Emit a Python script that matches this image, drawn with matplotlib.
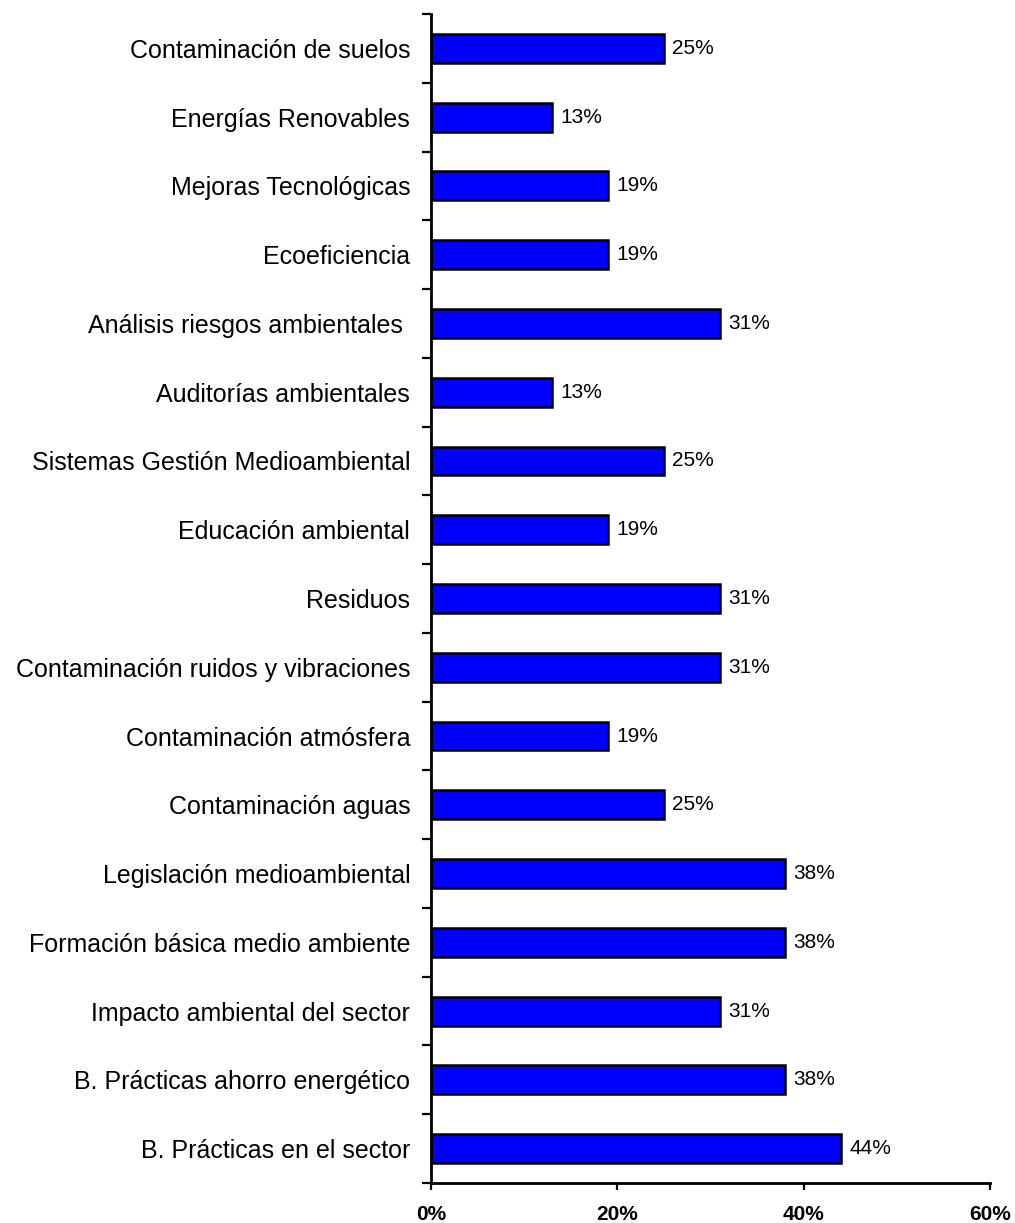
import numpy as np
import matplotlib.pyplot as plt
from matplotlib.ticker import FixedLocator

plt.rcParams['font.family'] = ['Liberation Sans', 'DejaVu Sans']

# topics, listed top to bottom
categories = [
    "Contaminación de suelos",
    "Energías Renovables",
    "Mejoras Tecnológicas",
    "Ecoeficiencia",
    "Análisis riesgos ambientales ",
    "Auditorías ambientales",
    "Sistemas Gestión Medioambiental",
    "Educación ambiental",
    "Residuos",
    "Contaminación ruidos y vibraciones",
    "Contaminación atmósfera",
    "Contaminación aguas",
    "Legislación medioambiental",
    "Formación básica medio ambiente",
    "Impacto ambiental del sector",
    "B. Prácticas ahorro energético",
    "B. Prácticas en el sector",
]
percent = [25, 13, 19, 19, 31, 13, 25, 19, 31, 31, 19, 25, 38, 38, 31, 38, 44]
xticks = [0, 20, 40, 60]

fig = plt.figure(figsize=(10.15, 12.23), dpi=100)
ax = fig.add_axes([431 / 1015, 1 - 1183 / 1223, (990 - 431) / 1015, (1183 - 14) / 1223])

y = np.arange(len(categories))
ax.barh(y, percent, height=0.42, color='#0000FF', edgecolor='black', linewidth=1.8)

for yi, v in zip(y, percent):
    ax.text(v + 0.9, yi, f"{v}%", va='center', ha='left', fontsize=15, color='black')

ax.set_ylim(len(categories) - 0.5, -0.5)
ax.set_xlim(0, 60)

ax.set_yticks(y)
ax.set_yticklabels(categories, fontsize=18)
ax.yaxis.set_minor_locator(FixedLocator(np.arange(-0.5, len(categories), 1.0)))
ax.tick_params(axis='y', which='major', length=0, pad=15)
ax.tick_params(axis='y', which='minor', length=6.5, width=1.6, direction='out')

ax.set_xticks(xticks)
ax.set_xticklabels([f"{t}%" for t in xticks], fontsize=15, fontweight='bold')
ax.tick_params(axis='x', which='major', length=5, width=1.6, direction='out', pad=11)

for side in ['top', 'right']:
    ax.spines[side].set_visible(False)
for side in ['left', 'bottom']:
    ax.spines[side].set_linewidth(2.0)

fig.savefig('out.png', dpi=100)
